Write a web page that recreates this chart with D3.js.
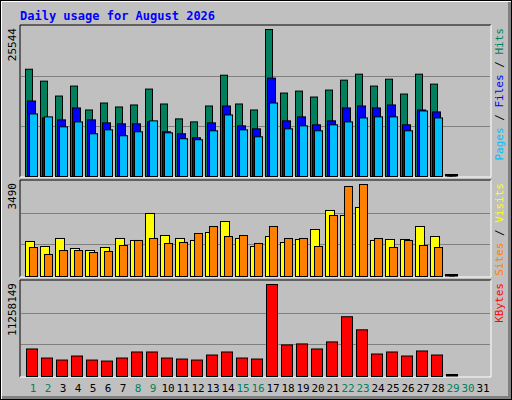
<!DOCTYPE html>
<html><head><meta charset="utf-8">
<script src="https://cdn.jsdelivr.net/npm/d3@7"></script>
<style>body{margin:0;background:#fff}svg text{font-family:"DejaVu Sans Mono",monospace}</style>
</head><body><div id="vis"></div>
<script>
const days = d3.range(1, 32);
const weekend = [1, 2, 8, 9, 15, 16, 22, 23, 29, 30];
const hits = [18640,16570,13980,15710,11560,12770,12080,12430,15190,12600,10010,9490,12250,17600,12600,11560,25544,14500,14840,13810,15020,16740,17780,15710,16910,14330,17780,16050,0];
const files = [13120,10180,9840,11910,9840,9320,9150,9150,9490,7770,7420,6730,9320,12250,8800,8280,17090,9670,10360,8980,9670,11910,12250,11910,12430,8980,11560,11220,0];
const pages = [10870,10360,8630,9490,7420,8110,7080,7770,9670,7590,6560,6390,7940,10700,8110,6900,12770,8280,8800,7940,8980,9490,10180,10360,10360,7940,11390,10180,0];
const sites = [1328,1138,1442,1062,986,1100,1442,1366,2390,1555,1442,1366,1669,2086,1442,1138,1517,1290,1404,1783,2504,2314,2618,1366,1404,1404,1897,1517,0];
const visits = [1100,835,986,986,910,948,1176,1366,1442,1252,1290,1631,1897,1517,1555,1252,1897,1442,1442,1138,2314,3414,3490,1442,1100,1366,1176,1100,0];
const kbytes = [3369000,2260000,2013000,2506000,2013000,1890000,2260000,2999000,2999000,2260000,2137000,2013000,2630000,2999000,2260000,2137000,11258149,3862000,3986000,3369000,4232000,7314000,5711000,2753000,2999000,2506000,3123000,2630000,0];

const W = 512, H = 400;
const svg = d3.select("#vis").append("svg").attr("width", W).attr("height", H);

// window frame
svg.append("rect").attr("width", W).attr("height", H).attr("fill", "#000");
svg.append("rect").attr("x", 1).attr("y", 1).attr("width", W - 2).attr("height", H - 2).attr("fill", "#fff");
svg.append("rect").attr("x", 2).attr("y", 2).attr("width", W - 3).attr("height", H - 3).attr("fill", "#808080");
svg.append("rect").attr("x", 2).attr("y", 2).attr("width", W - 6).attr("height", H - 6).attr("fill", "#c0c0c0");

svg.append("text").attr("x", 20).attr("y", 20).attr("fill", "#0000ff")
  .attr("font-size", 12).attr("font-weight", "bold").text("Daily usage for August 2026");

const x = d3.scaleBand().domain(days).range([24, 489]).paddingInner(0);

function panel(top, bottom, maxVal, maxY, label, series, rightLabels) {
  // inset frame
  svg.append("rect").attr("x", 20).attr("y", top).attr("width", 471).attr("height", bottom - top)
    .attr("fill", "#c0c0c0");
  svg.append("path").attr("d", `M20,${bottom}V${top}H491`).attr("stroke", "#000").attr("fill", "none");
  svg.append("path").attr("d", `M491,${top}V${bottom}H20`).attr("stroke", "#fff").attr("fill", "none");
  const base = bottom - 1;
  const y = d3.scaleLinear().domain([0, maxVal]).range([base, maxY]);
  const full = d3.scaleLinear().domain([0, 1]).range([base, top + 1]);
  [1 / 3, 2 / 3].forEach(f => {
    svg.append("line").attr("x1", 21).attr("x2", 490).attr("y1", Math.round(full(f)) + 0.5)
      .attr("y2", Math.round(full(f)) + 0.5).attr("stroke", "#808080");
  });
  series.forEach(s => {
    svg.append("g").selectAll("rect").data(s.values).join("rect")
      .attr("x", (d, i) => x(i + 1) + s.off + 0.5)
      .attr("y", d => d > 0 ? y(d) + 0.5 : base - 1.5)
      .attr("width", s.w)
      .attr("height", d => d > 0 ? base - y(d) : 1.5)
      .attr("fill", d => d > 0 ? s.color : "#000")
      .attr("stroke", "#000");
  });
  svg.append("text").attr("transform", `translate(16,${top + 3}) rotate(-90)`)
    .attr("text-anchor", "end").attr("font-size", 11).attr("fill", "#000").text(label);
  const t = svg.append("text").attr("transform", `translate(503,${top + 3}) rotate(-90)`)
    .attr("text-anchor", "end").attr("font-size", 11);
  rightLabels.forEach((r, i) => {
    t.append("tspan").attr("fill", r.color).text(r.text);
    if (i < rightLabels.length - 1) t.append("tspan").attr("fill", "#000").text(" / ");
  });
}

panel(25, 177, 25544, 29, "25544", [
  { values: hits, off: 1, w: 7, color: "#00805c" },
  { values: files, off: 3, w: 8, color: "#0000ff" },
  { values: pages, off: 5, w: 8, color: "#00bfff" }
], [{ text: "Pages", color: "#00bfff" }, { text: "Files", color: "#0000ff" }, { text: "Hits", color: "#00805c" }]);

panel(180, 277, 3490, 184, "3490", [
  { values: sites, off: 1, w: 9, color: "#ffff00" },
  { values: visits, off: 5, w: 8, color: "#ff8000" }
], [{ text: "Sites", color: "#ff8000" }, { text: "Visits", color: "#ffff00" }]);

panel(280, 377, 11258149, 284, "11258149", [
  { values: kbytes, off: 2, w: 11, color: "#ff0000" }
], [{ text: "KBytes", color: "#ff0000" }]);

svg.append("g").selectAll("text").data(days).join("text")
  .attr("x", d => x(d) + 9).attr("y", 392).attr("text-anchor", "middle")
  .attr("font-size", 11)
  .attr("fill", d => weekend.includes(d) ? "#00805c" : "#000")
  .text(d => d);
</script></body></html>
